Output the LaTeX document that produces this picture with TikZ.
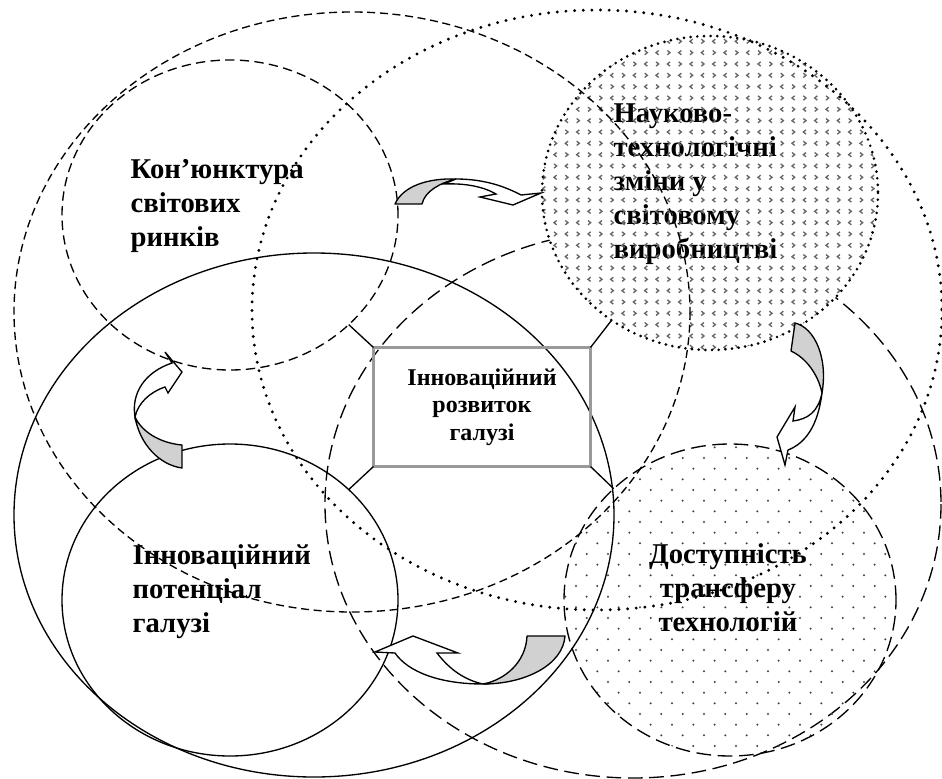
\documentclass[tikz,border=0pt]{standalone}
\usepackage{fontspec}
\setmainfont{Liberation Serif}
\usetikzlibrary{shapes.geometric,patterns}

\pgfdeclarepatternformonly{sparsedots}{\pgfqpoint{-1pt}{-1pt}}{\pgfqpoint{9pt}{9pt}}{\pgfqpoint{16pt}{16pt}}{%
  \pgfpathcircle{\pgfqpoint{0pt}{0pt}}{0.85pt}%
  \pgfpathcircle{\pgfqpoint{8pt}{8pt}}{0.85pt}%
  \pgfusepath{fill}%
}
\pgfdeclarepatternformonly{chevrons}{\pgfqpoint{-2pt}{-2pt}}{\pgfqpoint{11pt}{11pt}}{\pgfqpoint{17pt}{17pt}}{%
  \pgfsetlinewidth{1pt}%
  \pgfpathmoveto{\pgfqpoint{1pt}{1.6pt}}\pgfpathlineto{\pgfqpoint{-1pt}{0pt}}\pgfpathlineto{\pgfqpoint{1pt}{-1.6pt}}%
  \pgfpathmoveto{\pgfqpoint{7.5pt}{1.6pt}}\pgfpathlineto{\pgfqpoint{9.5pt}{0pt}}\pgfpathlineto{\pgfqpoint{7.5pt}{-1.6pt}}%
  \pgfpathmoveto{\pgfqpoint{-1pt}{10.1pt}}\pgfpathlineto{\pgfqpoint{1pt}{8.5pt}}\pgfpathlineto{\pgfqpoint{-1pt}{6.9pt}}%
  \pgfpathmoveto{\pgfqpoint{9.5pt}{10.1pt}}\pgfpathlineto{\pgfqpoint{7.5pt}{8.5pt}}\pgfpathlineto{\pgfqpoint{9.5pt}{6.9pt}}%
  \pgfusepath{stroke}%
}
\definecolor{bandgray}{gray}{0.82}
\definecolor{boxgray}{gray}{0.6}

\begin{document}
\begin{tikzpicture}[x=0.75pt, y=-0.75pt, line width=1pt,
    lbl/.style={font=\fontsize{21.5}{25.5}\selectfont\bfseries, align=left, inner sep=0pt},
    circ/.style={ellipse, outer sep=0pt, inner sep=0pt},
    finedash/.style={dash pattern=on 6pt off 3.5pt},
    middash/.style={dash pattern=on 7pt off 4pt},
    longdash/.style={dash pattern=on 11pt off 5pt},
    bigdots/.style={line width=2.4pt, line cap=round, dash pattern=on 0pt off 6.5pt},
    smalldots/.style={line width=2.2pt, line cap=round, dash pattern=on 0pt off 5pt},
    bandback/.style={draw, line width=1pt, line join=round, fill=bandgray},
    bandfront/.style={draw, line width=1pt, fill=white}]
        \useasboundingbox (0,0) rectangle (942,778);

        % ==== LABELS ====
        \node[lbl, anchor=north west] (konlbl) at (130,159) {Кон’юнктура\\світових\\ринків};
        \node[lbl, anchor=north west] (potlbl) at (132,544) {Інноваційний\\потенціал\\галузі};

        % ==== BIG DASHED ELLIPSE ====
        \draw[longdash] (633,504) ellipse [x radius=308, y radius=274];

        % ==== SCIENCE CIRCLE ====
        \node[circ, fill=white, minimum width=252pt, minimum height=235.5pt] (nauk) at (710,193) {};
        \node[lbl, anchor=north west] (nauklbl) at (613,103)
            {Науково-\\технологічні\\зміни у\\світовому\\виробництві};
        \path[pattern=chevrons, pattern color=black!60] (nauk.center) ellipse [x radius=168, y radius=157];

        % ==== TRANSFER CIRCLE ====
        \node[lbl, align=center, anchor=north] (dostlbl) at (728,543) {Доступність\\трансферу\\технологій};
        \node[circ, draw, longdash, pattern=sparsedots, pattern color=black!75,
            minimum width=249pt, minimum height=234pt] (dost) at (730,600) {};

        % ==== OTHER ELLIPSES ====
        \draw[finedash] (352,312) ellipse [x radius=338, y radius=300];
        \draw[bigdots] (597,310) ellipse [x radius=345, y radius=300];
        \draw (314,515) ellipse [x radius=300, y radius=262];
        \node[circ, draw, middash, minimum width=252pt, minimum height=232.5pt] (kon) at (230,215) {};
        \node[circ, draw, minimum width=252pt, minimum height=234pt] (pot) at (230,600) {};
        \draw[smalldots] (nauk.center) ellipse [x radius=168, y radius=157];

        % ==== CENTRE BOX ====
        \node[draw=boxgray, line width=2.6pt, outer sep=0pt, minimum width=162.75pt, minimum height=89.25pt,
            align=center, font=\fontsize{18}{20.6}\selectfont\bfseries] (rozv) at (482,407)
            {Інноваційний\\розвиток\\галузі};
        \draw (rozv.north west) -- (kon);
        \draw (rozv.north east) -- (nauk);
        \draw (rozv.south west) -- (pot);
        \draw (rozv.south east) -- (dost);

        % ==== CURVED ARROWS ====
        % markets -> science
        \path[bandback] (395,204) .. controls (403,186) and (428,178) .. (456,179)
            .. controls (440,183) and (425,191) .. (422,204) -- cycle;
        \path[bandfront] (456,179) .. controls (485,179) and (506,187) .. (521,195) -- (541,193)
            -- (513,205) -- (480,197) -- (496,194) .. controls (484,187) and (466,183) .. (444,184) -- cycle;
        % science -> transfer
        \path[bandback] (795,323) .. controls (815,328) and (828,358) .. (822,393)
            .. controls (818,374) and (806,358) .. (791,351) -- cycle;
        \path[bandfront] (822,393) .. controls (818,412) and (808,419) .. (793,421) -- (795,407)
            -- (777,437) -- (785,465) -- (788,450) .. controls (806,443) and (818,425) .. (822,393) -- cycle;
        % potential -> markets
        \path[bandback] (182,468) .. controls (160,465) and (140,445) .. (135,417)
            .. controls (142,432) and (160,443) .. (182,445) -- cycle;
        \path[bandfront] (135,417) .. controls (131,393) and (145,372) .. (172,363) -- (165,352)
            -- (182,372) -- (168,393) -- (165,387) .. controls (150,392) and (138,403) .. (135,417) -- cycle;
        % transfer -> potential
        \path[bandback] (527,636) -- (565,636) .. controls (563,665) and (525,684) .. (483,684)
            .. controls (505,680) and (526,662) .. (527,636) -- cycle;
        \path[bandfront] (483,684) .. controls (440,684) and (408,672) .. (395,653) -- (375,652)
            -- (413,636) -- (458,653) -- (437,653) .. controls (450,670) and (465,680) .. (483,684) -- cycle;
\end{tikzpicture}
\end{document}
